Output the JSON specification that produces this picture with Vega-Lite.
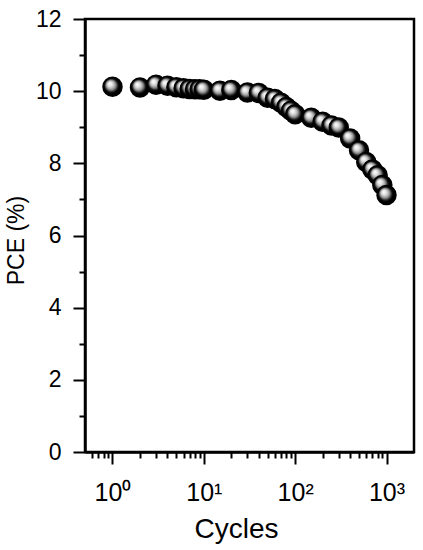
{
  "$schema": "https://vega.github.io/schema/vega-lite/v6.json",
  "width": 329,
  "height": 433,
  "autosize": "none",
  "padding": {"left": 85, "top": 19, "right": 9, "bottom": 98},
  "background": "white",
  "config": {
    "view": {"stroke": "black", "strokeWidth": 2.5},
    "font": "Liberation Sans"
  },
  "data": {
    "values": [
      {"cycles": 1, "pce": 10.12},
      {"cycles": 2, "pce": 10.10},
      {"cycles": 3, "pce": 10.18},
      {"cycles": 4, "pce": 10.15},
      {"cycles": 5, "pce": 10.11},
      {"cycles": 6, "pce": 10.08},
      {"cycles": 7, "pce": 10.06},
      {"cycles": 8, "pce": 10.05},
      {"cycles": 9, "pce": 10.05},
      {"cycles": 10, "pce": 10.04},
      {"cycles": 15, "pce": 10.01},
      {"cycles": 20, "pce": 10.03},
      {"cycles": 30, "pce": 9.96},
      {"cycles": 40, "pce": 9.95},
      {"cycles": 50, "pce": 9.82},
      {"cycles": 60, "pce": 9.78},
      {"cycles": 70, "pce": 9.68},
      {"cycles": 80, "pce": 9.56},
      {"cycles": 90, "pce": 9.46},
      {"cycles": 100, "pce": 9.36},
      {"cycles": 150, "pce": 9.26},
      {"cycles": 200, "pce": 9.15},
      {"cycles": 250, "pce": 9.05},
      {"cycles": 300, "pce": 8.99},
      {"cycles": 400, "pce": 8.69},
      {"cycles": 500, "pce": 8.36},
      {"cycles": 600, "pce": 8.04},
      {"cycles": 700, "pce": 7.83},
      {"cycles": 800, "pce": 7.67},
      {"cycles": 900, "pce": 7.40},
      {"cycles": 1000, "pce": 7.12}
    ]
  },
  "layer": [
    {
      "mark": {"type": "point", "shape": "circle", "filled": true, "opacity": 0, "size": 10},
      "encoding": {
        "x": {
          "field": "cycles",
          "type": "quantitative",
          "scale": {"type": "log", "domain": [0.5, 2000], "nice": false},
          "axis": {
            "orient": "bottom",
            "title": null,
            "values": [0.6, 0.7, 0.8, 0.9, 2, 3, 4, 5, 6, 7, 8, 9, 20, 30, 40, 50, 60, 70, 80, 90, 200, 300, 400, 500, 600, 700, 800, 900],
            "labels": false,
            "domain": false,
            "grid": false,
            "tickColor": "black",
            "tickWidth": 2,
            "tickSize": 6
          }
        },
        "y": {
          "field": "pce",
          "type": "quantitative",
          "scale": {"domain": [0, 12], "nice": false, "zero": false},
          "axis": {
            "orient": "left",
            "title": null,
            "values": [1, 3, 5, 7, 9, 11],
            "labels": false,
            "domain": false,
            "grid": false,
            "tickColor": "black",
            "tickWidth": 2,
            "tickSize": 6
          }
        }
      }
    },
    {
      "mark": {
        "type": "point",
        "shape": "circle",
        "filled": true,
        "size": 420,
        "opacity": 1,
        "strokeWidth": 0,
        "color": {
          "gradient": "radial",
          "x1": 0.35, "y1": 0.33, "r1": 0,
          "x2": 0.5, "y2": 0.5, "r2": 0.5,
          "stops": [
            {"offset": 0, "color": "#ffffff"},
            {"offset": 0.2, "color": "#e8e8e8"},
            {"offset": 0.38, "color": "#b4b4b4"},
            {"offset": 0.52, "color": "#727272"},
            {"offset": 0.62, "color": "#262626"},
            {"offset": 0.72, "color": "#000000"},
            {"offset": 1, "color": "#000000"}
          ]
        }
      },
      "encoding": {
        "x": {
          "field": "cycles",
          "type": "quantitative",
          "axis": {
            "orient": "bottom",
            "title": "Cycles",
            "titleFontSize": 28,
            "titleFontWeight": "normal",
            "titleColor": "black",
            "titleX": 151,
            "titleY": 85,
            "titleBaseline": "alphabetic",
            "titleAlign": "center",
            "values": [1, 10, 100, 1000],
            "labelExpr": "datum.value === 1 ? '10⁰' : datum.value === 10 ? '10¹' : datum.value === 100 ? '10²' : '10³'",
            "labelFontSize": 25,
            "labelColor": "black",
            "labelPadding": 16,
            "labelFlush": false,
            "labelOverlap": false,
            "grid": false,
            "domainColor": "black",
            "domainWidth": 2.5,
            "tickColor": "black",
            "tickWidth": 2,
            "tickSize": 12
          }
        },
        "y": {
          "field": "pce",
          "type": "quantitative",
          "axis": {
            "orient": "left",
            "title": "PCE (%)",
            "titleFontSize": 23,
            "titleFontWeight": "normal",
            "titleColor": "black",
            "titleX": -62,
            "titleY": 221,
            "titleAngle": -90,
            "titleBaseline": "alphabetic",
            "titleAlign": "center",
            "values": [0, 2, 4, 6, 8, 10, 12],
            "labelFontSize": 23,
            "labelColor": "black",
            "labelPadding": 12,
            "labelFlush": false,
            "labelOverlap": false,
            "grid": false,
            "domainColor": "black",
            "domainWidth": 2.5,
            "tickColor": "black",
            "tickWidth": 2,
            "tickSize": 12
          }
        }
      }
    }
  ],
  "resolve": {"scale": {"x": "shared", "y": "shared"}, "axis": {"x": "independent", "y": "independent"}}
}
